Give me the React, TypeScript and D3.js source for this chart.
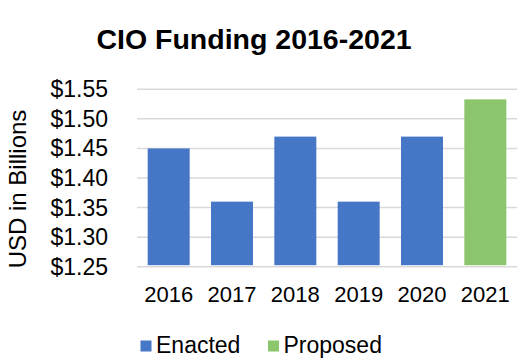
import React from "react";
import * as d3 from "d3";

const years = ["2016", "2017", "2018", "2019", "2020", "2021"];
const values = [1.45, 1.36, 1.47, 1.36, 1.47, 1.533];
const status = ["Enacted", "Enacted", "Enacted", "Enacted", "Enacted", "Proposed"];
const yTicks = [1.25, 1.3, 1.35, 1.4, 1.45, 1.5, 1.55];
const legendItems = ["Enacted", "Proposed"];

const colors: Record<string, string> = { Enacted: "#4676C6", Proposed: "#8CC66C" };

export default function App() {
  const W = 529, H = 364;
  const left = 137, right = 517, top = 89.3, bottom = 266.7;
  const x = d3.scaleBand<string>().domain(years).range([left, right]).paddingInner(0.337).paddingOuter(0.1685);
  const y = d3.scaleLinear().domain([1.25, 1.55]).range([bottom, top]);
  const fmt = (v: number) => "$" + d3.format(".2f")(v);
  const font = "Arial, 'Liberation Sans', sans-serif";
  const legendX = [140.5, 268];
  return (
    <svg width={W} height={H} style={{ position: "absolute", left: 0, top: 0, background: "#fff" }} fontFamily={font}>
      <rect x={0} y={0} width={W} height={H} fill="#fff" />
      <text x={254} y={49} textAnchor="middle" fontSize={28.5} fontWeight="bold" fill="#000">
        CIO Funding 2016-2021
      </text>
      {yTicks.map((t) => (
        <line key={"g" + t} x1={left} x2={right} y1={y(t)} y2={y(t)} stroke="#D9D9D9" strokeWidth={1.5} />
      ))}
      {yTicks.map((t) => (
        <text key={"t" + t} x={108} y={y(t) + 8} textAnchor="end" fontSize={23} fill="#000">
          {fmt(t)}
        </text>
      ))}
      <text transform={`translate(26,189) rotate(-90)`} textAnchor="middle" fontSize={24} fill="#000">
        USD in Billions
      </text>
      {years.map((yr, i) => (
        <rect key={yr} x={x(yr)} y={y(values[i])} width={x.bandwidth()} height={y(1.25) - y(values[i]) - 1.5}
          fill={colors[status[i]]} />
      ))}
      {years.map((yr) => (
        <text key={"x" + yr} x={(x(yr) as number) + x.bandwidth() / 2} y={301.5} textAnchor="middle" fontSize={22} fill="#000">
          {yr}
        </text>
      ))}
      {legendItems.map((item, i) => (
        <g key={item}>
          <rect x={legendX[i]} y={340.5} width={11} height={11} fill={colors[item]} />
          <text x={legendX[i] + 15.5} y={353.3} fontSize={23} fill="#000">{item}</text>
        </g>
      ))}
    </svg>
  );
}
